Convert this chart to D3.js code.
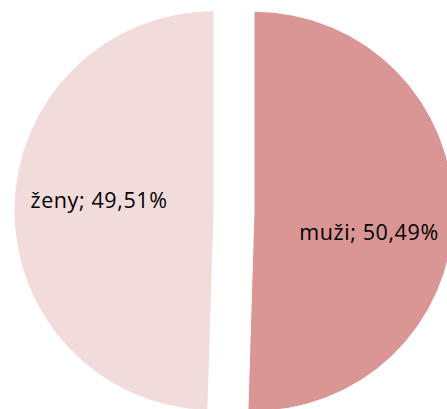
<head>
  <script type="text/javascript" src="https://d3js.org/d3.v7.min.js"></script>
  <style>
    body { margin: 0; background: #ffffff; }
    svg { display: block; }
    text {
      font-family: "Open Sans", sans-serif;
      font-size: 21.5px;
      letter-spacing: 0.6px;
      fill: #000000;
    }
  </style>
</head>
<body>
  <svg id="canvas" width="447" height="409"></svg>
</body>
<script>
  // data, in the order Excel draws the slices (clockwise from 12 o'clock)
  const categories = ["muži", "ženy"];
  const shares = [50.49, 49.51];
  const colors = ["#D99694", "#F2DCDB"];

  const svg = d3.select("svg");

  const settings = {
    cx: 234,
    cy: 211,
    radius: 200,
    explode: 20,
    labelRadius: 115
  };

  // small nudges so labels sit where the reference has them
  const labelNudge = [{ dx: 0, dy: 18 }, { dx: 0, dy: -9 }];

  const pie = d3.pie().sort(null).value(d => d.value);
  const arc = d3.arc().innerRadius(0).outerRadius(settings.radius);
  const labelArc = d3.arc().innerRadius(settings.labelRadius).outerRadius(settings.labelRadius);

  const data = categories.map((c, i) => ({ name: c, value: shares[i], color: colors[i] }));
  const slices = pie(data);

  const fmt = v => v.toFixed(2).replace(".", ",") + "%";

  const g = svg.append("g")
    .attr("transform", `translate(${settings.cx},${settings.cy})`);

  const slice = g.selectAll("g.slice")
    .data(slices)
    .enter()
    .append("g")
      .attr("class", "slice")
      .attr("transform", d => {
        const mid = (d.startAngle + d.endAngle) / 2;
        return `translate(${Math.sin(mid) * settings.explode},${-Math.cos(mid) * settings.explode})`;
      });

  slice.append("path")
    .attr("d", arc)
    .attr("fill", d => d.data.color)
    .attr("stroke", "#ffffff")
    .attr("stroke-width", 1);

  slice.append("text")
    .attr("text-anchor", "middle")
    .attr("dominant-baseline", "central")
    .attr("transform", (d, i) => {
      const c = labelArc.centroid(d);
      return `translate(${c[0] + labelNudge[i].dx},${c[1] + labelNudge[i].dy})`;
    })
    .text(d => `${d.data.name}; ${fmt(d.data.value)}`);
</script>
